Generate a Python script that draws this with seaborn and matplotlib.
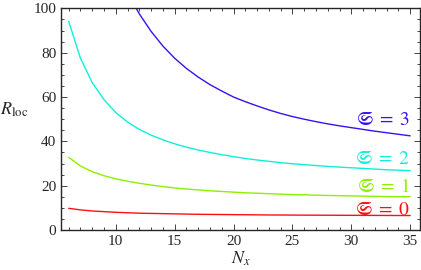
import matplotlib
matplotlib.use("Agg")
import matplotlib.pyplot as plt
import seaborn as sns
import pandas as pd
from matplotlib.ticker import MultipleLocator

# data (R_loc at integer N_x)
n_x = list(range(6, 36))
r_s0 = [9.8, 9.1, 8.6, 8.3, 8.0, 7.8, 7.6, 7.5, 7.4, 7.3, 7.2, 7.1, 7.05, 7.0, 6.95,
        6.9, 6.85, 6.8, 6.78, 6.75, 6.72, 6.7, 6.68, 6.66, 6.64, 6.62, 6.6, 6.58, 6.56, 6.55]
r_s1 = [32.8, 28.9, 26.3, 24.5, 23.1, 22.0, 21.1, 20.3, 19.6, 19.0, 18.5, 18.1, 17.7, 17.4, 17.1,
        16.8, 16.6, 16.4, 16.2, 16.0, 15.9, 15.7, 15.6, 15.5, 15.4, 15.3, 15.2, 15.1, 15.05, 15.0]
r_s2 = [94.1, 77.5, 66.5, 58.8, 53.0, 48.7, 45.4, 42.8, 40.7, 38.9, 37.4, 36.1, 35.0, 34.0, 33.1,
        32.3, 31.6, 31.0, 30.4, 29.9, 29.5, 29.1, 28.7, 28.4, 28.1, 27.8, 27.5, 27.2, 27.0, 26.8]
n_x3 = list(range(11, 36))
r_s3 = [107.0, 97.5, 89.6, 83.0, 77.5, 72.9, 69.0, 65.6, 62.7, 60.0, 57.9, 56.0, 54.2, 52.6, 51.2,
        50.0, 48.9, 47.9, 47.0, 46.2, 45.4, 44.6, 43.9, 43.2, 42.5]
labels = [r"$\mathfrak{S}\;=\;0$", r"$\mathfrak{S}\;=\;1$", r"$\mathfrak{S}\;=\;2$", r"$\mathfrak{S}\;=\;3$"]
colors = ["#ff1010", "#8cf000", "#10f0d8", "#3a10f0"]

sns.set_style("ticks")
plt.rcParams["font.family"] = ["Liberation Serif", "DejaVu Serif"]
plt.rcParams["mathtext.fontset"] = "stix"

fig = plt.figure(figsize=(4.21, 2.70), dpi=100)
ax = fig.add_axes([0.145, 0.148, 0.853, 0.821])

series = [(n_x, r_s0), (n_x, r_s1), (n_x, r_s2), (n_x3, r_s3)]
for (xs, ys), c in zip(series, colors):
    df = pd.DataFrame({"N": xs, "R": ys})
    sns.lineplot(data=df, x="N", y="R", color=c, linewidth=1.0, ax=ax)

# curve labels at the right end
label_y = [6.8, 17.3, 29.7, 47.3]
for lab, c, y in zip(labels, colors, label_y):
    ax.text(35, y, lab, color=c, fontsize=14, ha="right", va="baseline")

ax.set_xlim(5.35, 35.85)
ax.set_ylim(0, 100)
ax.xaxis.set_major_locator(MultipleLocator(5))
ax.xaxis.set_minor_locator(MultipleLocator(1))
ax.yaxis.set_major_locator(MultipleLocator(20))
ax.yaxis.set_minor_locator(MultipleLocator(5))
ax.tick_params(which="both", direction="in", top=True, right=True, labelsize=11, width=0.6)
ax.tick_params(which="major", length=4)
ax.tick_params(which="minor", length=2)
for s in ax.spines.values():
    s.set_linewidth(1.0)

ax.set_xlabel(r"$N_x$", fontsize=13, labelpad=1)
ax.set_ylabel(r"$R_{\rm loc}$", fontsize=13, rotation=0, labelpad=14)

fig.savefig("out.png", dpi=100)
